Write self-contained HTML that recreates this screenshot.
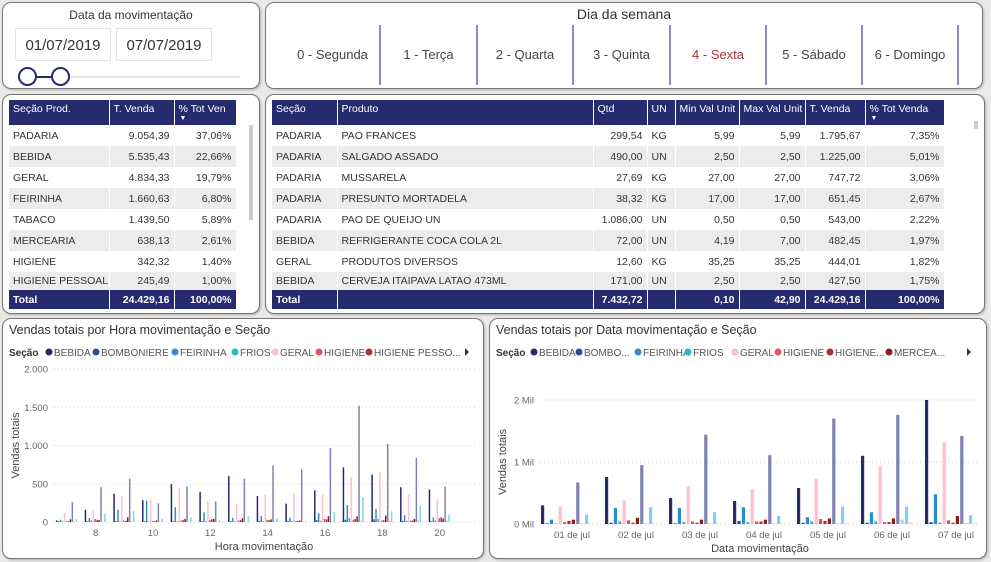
<!DOCTYPE html>
<html><head><meta charset="utf-8">
<style>
*{box-sizing:border-box;margin:0;padding:0}
body{width:991px;height:562px;background:#eaeaea;font-family:"Liberation Sans",sans-serif;position:relative;overflow:hidden;color:#333}
.panel{position:absolute;background:#fff;border:1.5px solid #777;border-radius:9px;box-shadow:1px 1px 2px rgba(0,0,0,.25)}
.t{position:absolute;white-space:nowrap}
table{border-collapse:collapse;position:absolute;font-size:10.5px;table-layout:fixed}
td,th{height:21px;padding:0 4px;white-space:nowrap;overflow:hidden}
th{background:#262a6e;color:#fff;font-weight:normal;text-align:left;vertical-align:top;padding-top:3px;height:25px;border-right:1px solid #fff;line-height:12px;position:relative}
th .arr{position:absolute;left:5px;top:15px;font-size:7px;line-height:8px}
tr.alt td{background:#ececec}
td{border-right:1px solid #fff}
tr.tot td{background:#262a6e;color:#fff;font-weight:bold;height:19px}
tr.last td{height:18px}
.r{text-align:right}
.day{position:absolute;top:22px;height:60px;border-right:2px solid #8a8cc4;font-size:13px;color:#444;text-align:center;line-height:60px}
</style></head><body>

<div class="panel" style="left:2px;top:2px;width:258px;height:87px">
 <div class="t" style="left:0;width:256px;text-align:center;top:5px;font-size:12px;color:#333">Data da movimentação</div>
 <div class="t" style="left:12px;top:25px;width:96px;height:33px;border:1px solid #e4e4e4;font-size:15px;line-height:33px;text-align:center;color:#333">01/07/2019</div>
 <div class="t" style="left:113px;top:25px;width:96px;height:33px;border:1px solid #e4e4e4;font-size:15px;line-height:33px;text-align:center;color:#333">07/07/2019</div>
 <div class="t" style="left:24px;top:73px;width:213px;height:2px;background:#e6e6e6"></div>
 <div class="t" style="left:24px;top:73px;width:34px;height:2px;background:#262a6e"></div>
 <div class="t" style="left:15px;top:64px;width:19px;height:19px;border:2px solid #262a6e;border-radius:50%;background:#fff"></div>
 <div class="t" style="left:48px;top:64px;width:19px;height:19px;border:2px solid #262a6e;border-radius:50%;background:#fff"></div>
</div>

<div class="panel" style="left:265px;top:2px;width:718px;height:87px">
 <div class="t" style="left:0;width:716px;text-align:center;top:3px;font-size:14px;color:#333">Dia da semana</div>
 <div class="day" style="left:20px;width:95px">0 - Segunda</div>
 <div class="day" style="left:115px;width:97px">1 - Terça</div>
 <div class="day" style="left:212px;width:96px">2 - Quarta</div>
 <div class="day" style="left:308px;width:97px">3 - Quinta</div>
 <div class="day" style="left:405px;width:96px;color:#a8323a">4 - Sexta</div>
 <div class="day" style="left:501px;width:96px">5 - Sábado</div>
 <div class="day" style="left:597px;width:96px">6 - Domingo</div>
</div>

<div class="panel" style="left:2px;top:94px;width:258px;height:220px">
<table style="left:6px;top:5px;width:227px">
<colgroup><col style="width:100px"><col style="width:65px"><col style="width:62px"></colgroup>
<tr><th>Seção Prod.</th><th>T. Venda</th><th>% Tot Ven<span class="arr">▼</span></th></tr>
<tr><td>PADARIA</td><td class="r">9.054,39</td><td class="r">37,06%</td></tr>
<tr class="alt"><td>BEBIDA</td><td class="r">5.535,43</td><td class="r">22,66%</td></tr>
<tr><td>GERAL</td><td class="r">4.834,33</td><td class="r">19,79%</td></tr>
<tr class="alt"><td>FEIRINHA</td><td class="r">1.660,63</td><td class="r">6,80%</td></tr>
<tr><td>TABACO</td><td class="r">1.439,50</td><td class="r">5,89%</td></tr>
<tr class="alt"><td>MERCEARIA</td><td class="r">638,13</td><td class="r">2,61%</td></tr>
<tr><td>HIGIENE</td><td class="r">342,32</td><td class="r">1,40%</td></tr>
<tr class="alt last"><td>HIGIENE PESSOAL</td><td class="r">245,49</td><td class="r">1,00%</td></tr>
<tr class="tot"><td>Total</td><td class="r">24.429,16</td><td class="r">100,00%</td></tr>
</table>
<div class="t" style="left:246px;top:30px;width:4px;height:95px;background:#ccc"></div>
</div>

<div class="panel" style="left:265px;top:94px;width:720px;height:220px">
<table style="left:6px;top:5px;width:672px">
<colgroup><col style="width:65px"><col style="width:256px"><col style="width:54px"><col style="width:28px"><col style="width:64px"><col style="width:66px"><col style="width:60px"><col style="width:79px"></colgroup>
<tr><th>Seção</th><th>Produto</th><th>Qtd</th><th>UN</th><th>Min Val Unit</th><th>Max Val Unit</th><th>T. Venda</th><th>% Tot Venda<span class="arr">▼</span></th></tr>
<tr><td>PADARIA</td><td>PAO FRANCES</td><td class="r">299,54</td><td>KG</td><td class="r">5,99</td><td class="r">5,99</td><td class="r">1.795,67</td><td class="r">7,35%</td></tr>
<tr class="alt"><td>PADARIA</td><td>SALGADO ASSADO</td><td class="r">490,00</td><td>UN</td><td class="r">2,50</td><td class="r">2,50</td><td class="r">1.225,00</td><td class="r">5,01%</td></tr>
<tr><td>PADARIA</td><td>MUSSARELA</td><td class="r">27,69</td><td>KG</td><td class="r">27,00</td><td class="r">27,00</td><td class="r">747,72</td><td class="r">3,06%</td></tr>
<tr class="alt"><td>PADARIA</td><td>PRESUNTO MORTADELA</td><td class="r">38,32</td><td>KG</td><td class="r">17,00</td><td class="r">17,00</td><td class="r">651,45</td><td class="r">2,67%</td></tr>
<tr><td>PADARIA</td><td>PAO DE QUEIJO UN</td><td class="r">1.086,00</td><td>UN</td><td class="r">0,50</td><td class="r">0,50</td><td class="r">543,00</td><td class="r">2,22%</td></tr>
<tr class="alt"><td>BEBIDA</td><td>REFRIGERANTE COCA COLA 2L</td><td class="r">72,00</td><td>UN</td><td class="r">4,19</td><td class="r">7,00</td><td class="r">482,45</td><td class="r">1,97%</td></tr>
<tr><td>GERAL</td><td>PRODUTOS DIVERSOS</td><td class="r">12,60</td><td>KG</td><td class="r">35,25</td><td class="r">35,25</td><td class="r">444,01</td><td class="r">1,82%</td></tr>
<tr class="alt last"><td>BEBIDA</td><td>CERVEJA ITAIPAVA LATAO 473ML</td><td class="r">171,00</td><td>UN</td><td class="r">2,50</td><td class="r">2,50</td><td class="r">427,50</td><td class="r">1,75%</td></tr>
<tr class="tot"><td>Total</td><td></td><td class="r">7.432,72</td><td></td><td class="r">0,10</td><td class="r">42,90</td><td class="r">24.429,16</td><td class="r">100,00%</td></tr>
</table>
<div class="t" style="left:708px;top:26px;width:4px;height:8px;background:#ccc"></div>
</div>

<div class="panel" style="left:2px;top:318px;width:482px;height:241px">
<svg id="hourChart" width="480" height="239" style="position:absolute;left:0;top:0" font-family="Liberation Sans, sans-serif"></svg>
</div>
<div class="panel" style="left:489px;top:318px;width:498px;height:241px">
<svg id="dateChart" width="496" height="239" style="position:absolute;left:0;top:0" font-family="Liberation Sans, sans-serif"></svg>
</div>

<script>
const seriesNames = ["BEBIDA","BOMBONIERE","FEIRINHA","FRIOS","GERAL","HIGIENE","HIGIENE PESSOAL","MERCEARIA","PADARIA","OUTROS","TABACO","VARIADOS"];
const seriesColors = ["#262a6e","#2a4b9b","#2f8ccc","#2bb5d6","#ffc0cb","#e8505b","#a83232","#8b1c1c","#8081b2","#c9cbe6","#7fd3e8","#fbd5dc"];
const hourCats = [7,8,9,10,11,12,13,14,15,16,17,18,19,20];
const hourTicks = [0,500,1000,1500,2000];
const hourTickLabels = ["0","500","1.000","1.500","2.000"];
const hourXLabels = [8,10,12,14,16,18,20];
const hBEBIDA  =[20,160,370,285,495,395,600,340,240,415,715,620,455,425];
const hBOMB    =[10,10,10,10,10,10,10,15,15,25,30,35,15,10];
const hFEIR    =[30,50,160,280,195,125,55,80,55,115,220,170,90,60];
const hFRIOS   =[5,20,10,5,10,10,10,10,10,15,50,40,15,20];
const hGERAL   =[120,160,340,290,440,270,240,355,375,365,590,650,365,290];
const hHIG     =[10,40,20,15,20,25,20,30,15,40,30,20,20,50];
const hHIGP    =[10,30,15,10,25,35,25,25,15,35,40,25,20,60];
const hMERC    =[35,25,60,20,40,40,50,35,20,75,75,85,40,45];
const hPADARIA =[260,455,565,245,465,270,565,740,690,965,1520,1020,840,465];
const hOUTROS  =[5,5,5,5,5,5,5,5,5,5,20,20,20,20];
const hTABACO  =[35,105,140,40,65,20,75,50,5,130,325,140,215,100];
const hVAR     =[2,2,2,2,2,2,2,2,2,2,2,2,2,2];
const hourSeries=[hBEBIDA,hBOMB,hFEIR,hFRIOS,hGERAL,hHIG,hHIGP,hMERC,hPADARIA,hOUTROS,hTABACO,hVAR];

const dateCats = ["01 de jul","02 de jul","03 de jul","04 de jul","05 de jul","06 de jul","07 de jul"];
const dateTicks = [0,1000,2000];
const dateTickLabels = ["0 Mil","1 Mil","2 Mil"];
const dBEBIDA  =[300,760,420,370,580,1100,2000];
const dBOMB    =[10,20,10,50,20,20,30];
const dFEIR    =[70,260,260,270,110,190,480];
const dFRIOS   =[10,40,30,30,40,40,20];
const dGERAL   =[280,380,610,560,730,930,1320];
const dHIG     =[30,60,40,40,80,30,60];
const dHIGP    =[50,20,20,40,50,30,20];
const dMERC    =[70,100,70,70,90,90,130];
const dPADARIA =[670,950,1440,1110,1700,1760,1420];
const dOUTROS  =[10,10,10,10,10,70,20];
const dTABACO  =[150,270,190,130,280,280,140];
const dVAR     =[10,10,10,10,20,30,20];
const dateSeries=[dBEBIDA,dBOMB,dFEIR,dFRIOS,dGERAL,dHIG,dHIGP,dMERC,dPADARIA,dOUTROS,dTABACO,dVAR];

const NS="http://www.w3.org/2000/svg";
function mk(svg,tag,attrs,text){const e=document.createElementNS(NS,tag);for(const k in attrs)e.setAttribute(k,attrs[k]);if(text!==undefined)e.textContent=text;svg.appendChild(e);return e;}

function legend(svg,names,xs,y){
  const t=mk(svg,"text",{x:6,y:y+4,"font-size":10,"font-weight":"bold",fill:"#333"},"Seção");
  
  
  names.forEach((n,i)=>{
    const c=mk(svg,"circle",{cx:xs[i],cy:y,r:3.5,fill:seriesColors[i]});
    
    
    const tx=mk(svg,"text",{x:xs[i]+5,y:y+4,"font-size":10,fill:"#555"},n);
    
    
  });
}

function drawChart(svg,opt){
  const yScale=v=>opt.y0-(v/opt.yMax)*(opt.y0-opt.yTop);
  mk(svg,"text",{x:6,y:15,"font-size":12.5,fill:"#333"},opt.title);
  opt.ticks.forEach((tv,i)=>{
    const y=yScale(tv);
    const g=mk(svg,"line",{x1:opt.x0,x2:opt.x1,y1:y,y2:y,stroke:"#ccc","stroke-dasharray":"1,3"});
    
    
    const l=mk(svg,"text",{x:opt.x0-6,y:y+3.5,"font-size":9.5,fill:"#666","text-anchor":"end"},opt.tickLabels[i]);
    
    
  });
  opt.cats.forEach((c,ci)=>{
    const cx=opt.xScale(ci);
    opt.series.forEach((s,si)=>{
      const v=s[ci];const y=yScale(v);
      const r=mk(svg,"rect",{x:cx+opt.off+si*opt.step,y:y,width:opt.bw,height:Math.max(0.5,opt.y0-y),fill:seriesColors[si]});
      
      
    });
  });
  opt.xLabels.forEach(lb=>{
    const ci=opt.cats.indexOf(lb);
    const t=mk(svg,"text",{x:opt.xScale(ci),y:opt.y0+14,"font-size":9.5,fill:"#666","text-anchor":"middle"},lb);
    
    
  });
  const xt=mk(svg,"text",{x:opt.xTitleX,y:opt.y0+28,"font-size":11,fill:"#444","text-anchor":"middle"},opt.xTitle);
  
  
  const yc=(opt.y0+opt.yTop)/2;
  const yt=mk(svg,"text",{x:16,y:yc,"font-size":11,fill:"#444","text-anchor":"middle",transform:`rotate(-90 16 ${yc})`},"Vendas totais");
  
  
  mk(svg,"path",{d:`M${opt.arrowX} ${opt.legendY-4} l4 4 l-4 4 z`,fill:"#333"});
}

const hs=document.getElementById("hourChart");
legend(hs,["BEBIDA","BOMBONIERE","FEIRINHA","FRIOS","GERAL","HIGIENE","HIGIENE PESSO..."],[46,93,172,232,272,316,366],33);
drawChart(hs,{title:"Vendas totais por Hora movimentação e Seção",y0:203,yTop:50,yMax:2000,x0:51,x1:473,
 ticks:hourTicks,tickLabels:hourTickLabels,cats:hourCats,series:hourSeries,
 xScale:i=>64+i*28.67,off:-11,step:1.95,bw:1.5,xLabels:hourXLabels,xTitle:"Hora movimentação",xTitleX:261,arrowX:462,legendY:33});

const ds=document.getElementById("dateChart");
legend(ds,["BEBIDA","BOMBO...","FEIRINHA","FRIOS","GERAL","HIGIENE","HIGIENE...","MERCEA..."],[44,89,148,198,245,288,340,399],33);
drawChart(ds,{title:"Vendas totais por Data movimentação e Seção",y0:205,yTop:81,yMax:2000,x0:50,x1:488,
 ticks:dateTicks,tickLabels:dateTickLabels,cats:dateCats,series:dateSeries,
 xScale:i=>82+i*64,off:-31,step:4.4,bw:3.2,xLabels:dateCats,xTitle:"Data movimentação",xTitleX:270,arrowX:477,legendY:33});
</script>
</body></html>
